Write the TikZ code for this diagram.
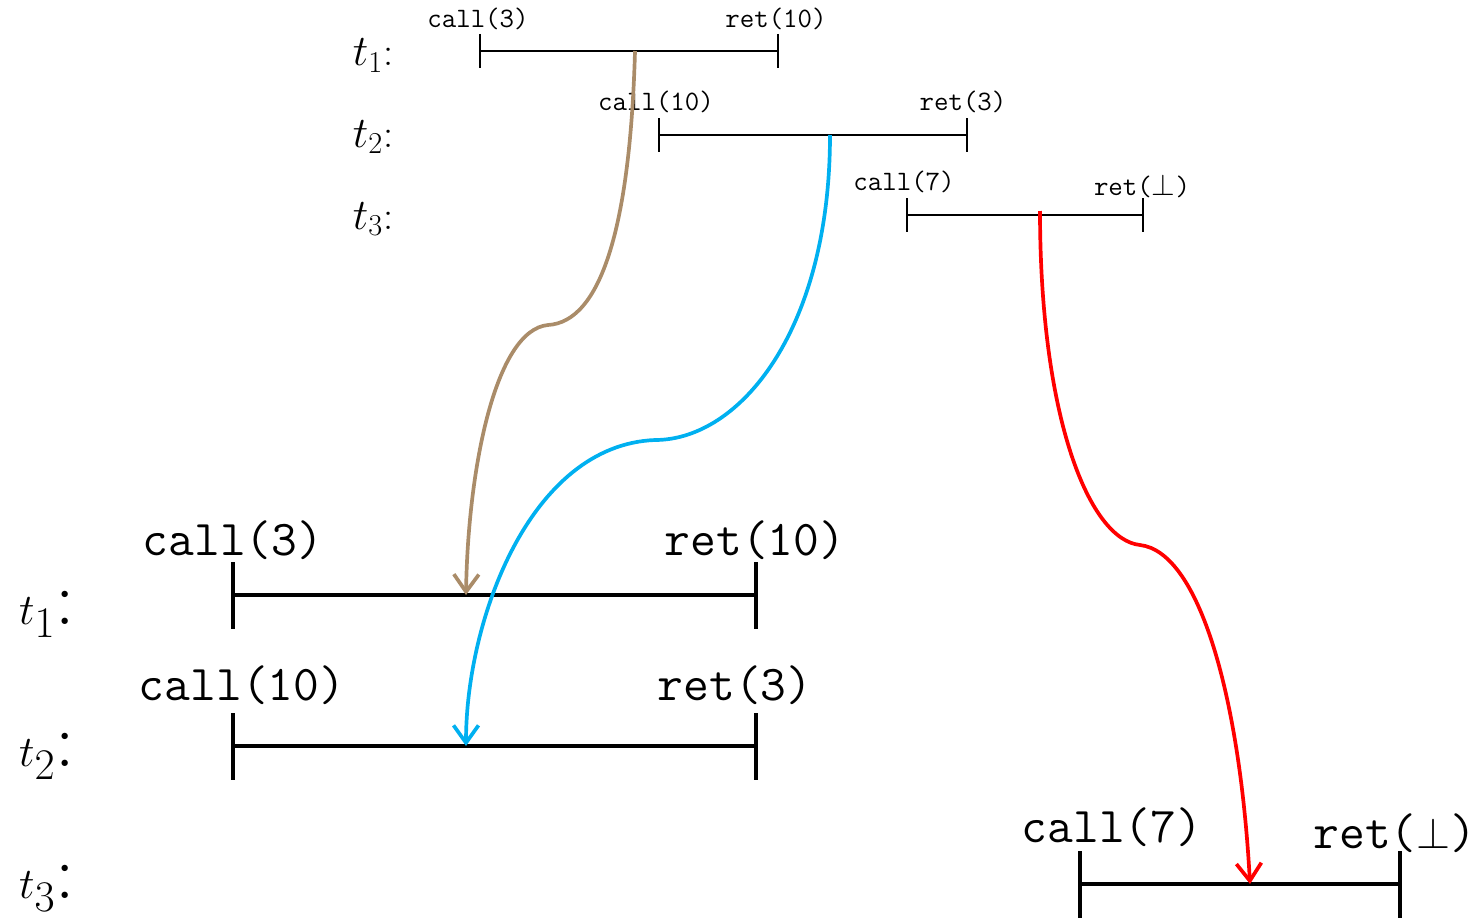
\documentclass[tikz,border=0pt]{standalone}
\usepackage{fontspec}
\usetikzlibrary{arrows.meta}
\definecolor{linkbrown}{RGB}{170,140,105}
\definecolor{linkblue}{RGB}{0,176,240}
\definecolor{linkred}{RGB}{255,0,0}

\begin{document}
\begin{tikzpicture}[
    x=0.02cm, y=-0.02cm,
    smallop/.style={anchor=base, inner sep=0pt, font=\ttfamily\fontsize{16}{18}\selectfont},
    bigop/.style={anchor=base, inner sep=0pt, font=\ttfamily\fontsize{28.5}{32}\selectfont},
    smallname/.style={anchor=base, inner sep=0pt, font=\fontsize{23}{26}\selectfont},
    bigname/.style={anchor=base, inner sep=0pt, font=\fontsize{44}{48}\selectfont},
    smallbar/.style={line width=1.1pt},
    bigbar/.style={line width=2.2pt},
    link/.style={line width=2.1pt, -{Straight Barb[length=3.5mm, width=5mm]}}
]
    \useasboundingbox (0,0) rectangle (1483,919);

    % Small history
    \coordinate (s1a) at (480,51);  \coordinate (s1b) at (778,51);  \coordinate (s1m) at (635,51);
    \coordinate (s2a) at (659,135); \coordinate (s2b) at (967,135); \coordinate (s2m) at (830,135);
    \coordinate (s3a) at (907,215); \coordinate (s3b) at (1143,215); \coordinate (s3m) at (1040,211);

    \node[smallname] (sn1) at (373,66)  {$t_1$:};
    \node[smallname] (sn2) at (373,147) {$t_2$:};
    \node[smallname] (sn3) at (373,229) {$t_3$:};

    \foreach \i in {1,2,3} {
        \draw[smallbar] (s\i a) -- (s\i b);
        \draw[smallbar] (s\i a) ++(0,-17) -- ++(0,34);
        \draw[smallbar] (s\i b) ++(0,-17) -- ++(0,34);
    }

    \node[smallop] (sc1) at (478,28)   {call(3)};
    \node[smallop] (sr1) at (776,28)   {ret(10)};
    \node[smallop] (sc2) at (656,111)  {call(10)};
    \node[smallop] (sr2) at (963,111)  {ret(3)};
    \node[smallop] (sc3) at (904,190)  {call(7)};
    \node[smallop] (sr3) at (1142,195) {ret($\bot$)};

    % Big history
    \coordinate (b1a) at (233,595);  \coordinate (b1b) at (756,595);  \coordinate (b1m) at (466,595);
    \coordinate (b2a) at (233,746);  \coordinate (b2b) at (756,746);  \coordinate (b2m) at (466,746);
    \coordinate (b3a) at (1080,884); \coordinate (b3b) at (1400,884); \coordinate (b3m) at (1250,884);

    \node[bigname] (bn1) at (47,624) {$t_1$:};
    \node[bigname] (bn2) at (47,766) {$t_2$:};
    \node[bigname] (bn3) at (47,898) {$t_3$:};

    \foreach \i in {1,2,3} {
        \draw[bigbar] (b\i a) -- (b\i b);
        \draw[bigbar] (b\i a) ++(0,-33) -- ++(0,67);
        \draw[bigbar] (b\i b) ++(0,-33) -- ++(0,67);
    }

    \node[bigop] (bc1) at (233,555)  {call(3)};
    \node[bigop] (br1) at (755,555)  {ret(10)};
    \node[bigop] (bc2) at (242,700)  {call(10)};
    \node[bigop] (br2) at (735,700)  {ret(3)};
    \node[bigop] (bc3) at (1112,842) {call(7)};
    \node[bigop] (br3) at (1395,848) {ret($\bot$)};

    % Links
    \draw[link, linkbrown] (s1m) .. controls (630,230) and (600,322) .. (548,325)
        .. controls (495,330) and (468,470) .. (b1m);
    \draw[link, linkblue] (s2m) .. controls (830,330) and (740,440) .. (655,440)
        .. controls (530,445) and (466,620) .. (b2m);
    \draw[link, linkred] (s3m) .. controls (1040,420) and (1090,540) .. (1140,545)
        .. controls (1200,552) and (1240,700) .. (b3m);

\end{tikzpicture}
\end{document}
